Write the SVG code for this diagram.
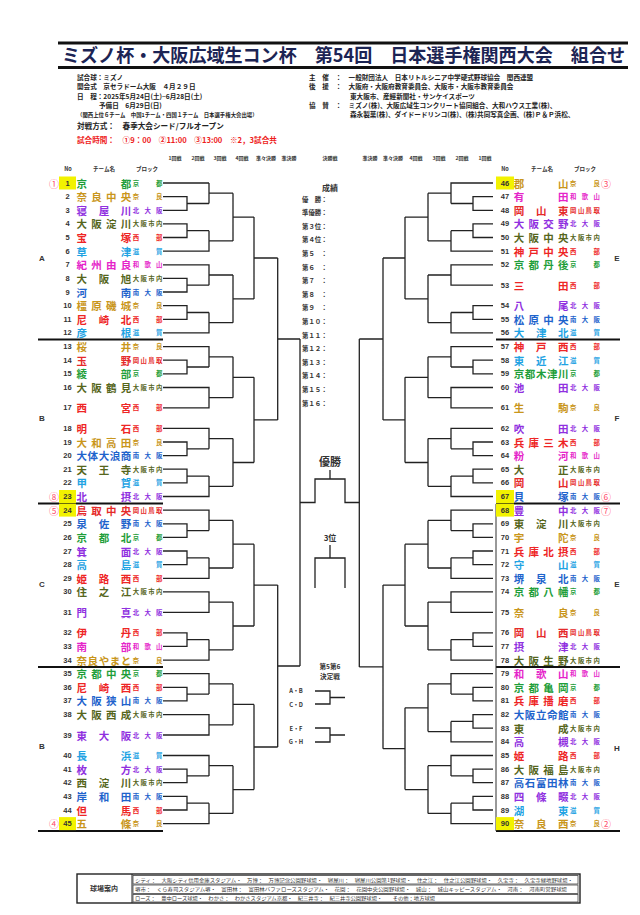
<svg xmlns="http://www.w3.org/2000/svg" width="640" height="915" viewBox="0 0 640 915">
<style>
text{font-family:"Noto Sans CJK JP","Noto Sans CJK SC",sans-serif;font-weight:700}
.nm{font-size:10.5px;text-anchor:middle;dominant-baseline:central}
.bk{font-size:6.4px;text-anchor:middle;dominant-baseline:central}
.no{font-family:"Liberation Sans",Arial,sans-serif;font-size:7.5px;fill:#333;text-anchor:middle;dominant-baseline:central}
.ci{font-size:10px;fill:#ff4f6e;text-anchor:middle;dominant-baseline:central;font-weight:400}
.hl{fill:#f2f200}
.kyo{fill:#1f9e3a}.nara{fill:#c9961b}.kita{fill:#9030e0}.shinai{fill:#56661c}.sei{fill:#ee2525}.shiga{fill:#1fa3e3}.waka{fill:#e524c9}.minami{fill:#1e63cc}.oka{fill:#e52a2a}
.ln{stroke:#222;stroke-width:1.3;fill:none}
.sep{stroke:#111;stroke-width:2.2}
.rd{font-size:5px;fill:#333;text-anchor:middle}
.ch{font-size:5.5px;fill:#333;text-anchor:middle}
.inf{font-size:6.6px;fill:#222}
.sm{font-size:5.4px;fill:#222}
.res{font-size:6.4px;fill:#333}
.blk{font-family:"Liberation Sans",Arial,sans-serif;font-size:8px;fill:#333;text-anchor:middle;dominant-baseline:central}
.ft{font-size:5px;fill:#333;font-weight:400}
</style>

<g id="header">
<line x1="58" y1="43" x2="628" y2="43" stroke="#111" stroke-width="3"/>
<line x1="58" y1="67.5" x2="628" y2="67.5" stroke="#111" stroke-width="3"/>
<text x="62" y="62" font-size="18.5" fill="#1c2454" textLength="563" lengthAdjust="spacingAndGlyphs">ミズノ杯・大阪広域生コン杯　第54回　日本選手権関西大会　組合せ</text>
<text class="inf" x="77" y="79.5">試合球：ミズノ</text>
<text class="inf" x="77" y="89">開会式　京セラドーム大阪　４月２９日</text>
<text class="inf" x="77" y="98.5">日　程：2025年5月24日(土)~6月28日(土)</text>
<text class="inf" x="99" y="107.5">予備日　6月29日(日)</text>
<text class="sm" x="77" y="117">（関西上位６チーム　中国1チーム・四国１チーム　日本選手権大会出場）</text>
<text x="77" y="129" font-size="7.6" fill="#222">対戦方式：　春季大会シード/フルオープン</text>
<text x="77" y="142.5" font-size="7.6" fill="#ee1c1c">試合時間：　①9：00　②11:00　③13:00　※2，3試合共</text>
<text class="inf" x="309" y="79.5">主　催　：　一般財団法人　日本リトルシニア中学硬式野球協会　関西連盟</text>
<text class="inf" x="309" y="89">後　援　：　大阪府・大阪府教育委員会、大阪市・大阪市教育委員会</text>
<text class="inf" x="350" y="98.5">東大阪市、産經新聞社・サンケイスポーツ</text>
<text class="inf" x="309" y="107.5">協　賛　：　ミズノ(株)、大阪広域生コンクリート協同組合、大和ハウス工業(株)、</text>
<text class="inf" x="350" y="117">森永製菓(株)、ダイドードリンコ(株)、(株)共同写真企画、(株)Ｐ＆Ｐ浜松、</text>
</g>

<g id="round-labels">
<text class="rd" x="175" y="160">1回戦</text><text class="rd" x="198" y="160">2回戦</text><text class="rd" x="220" y="160">3回戦</text><text class="rd" x="242" y="160">4回戦</text><text class="rd" x="266" y="160">準々決勝</text><text class="rd" x="289" y="160">準決勝</text><text class="rd" x="330" y="160">決勝戦</text><text class="rd" x="370" y="160">準決勝</text><text class="rd" x="393" y="160">準々決勝</text><text class="rd" x="416" y="160">4回戦</text><text class="rd" x="439" y="160">3回戦</text><text class="rd" x="462" y="160">2回戦</text><text class="rd" x="485" y="160">1回戦</text>
<text class="ch" x="68" y="171">No</text><text class="ch" x="104" y="171">チーム名</text><text class="ch" x="147" y="171">ブロック</text>
<text class="ch" x="505" y="171">No</text><text class="ch" x="542" y="171">チーム名</text><text class="ch" x="585" y="171">ブロック</text>
</g>

<g id="block-labels">
<text class="blk" x="42" y="258">A</text><text class="blk" x="42" y="418">B</text><text class="blk" x="42" y="584">C</text><text class="blk" x="42" y="746">B</text>
<text class="blk" x="617" y="258">E</text><text class="blk" x="617" y="418">F</text><text class="blk" x="617" y="584">E</text><text class="blk" x="617" y="748">H</text>
</g>

<g id="separators">
<line class="sep" x1="38" y1="339.5" x2="163" y2="339.5"/><line class="sep" x1="38" y1="503.5" x2="163" y2="503.5"/><line class="sep" x1="38" y1="667" x2="163" y2="667"/><line class="sep" x1="38" y1="831" x2="163" y2="831"/>
<line class="sep" x1="496" y1="339.5" x2="620" y2="339.5"/><line class="sep" x1="496" y1="503.5" x2="620" y2="503.5"/><line class="sep" x1="496" y1="667" x2="620" y2="667"/><line class="sep" x1="496" y1="831" x2="620" y2="831"/>
<line x1="496" y1="504" x2="496" y2="831" stroke="#333" stroke-width="1"/>
</g>

<g id="connectors" class="ln">
<path d="M163 183H209M163 196.6H187V210.3H163M187 203.5H209M209 183V203.5M209 193.2H233M163 223.9H187V237.5H163M187 230.7H209M163 251.2H209V230.7M209 240.9H233M233 193.2V240.9M233 217.1H254M163 264.8H209V285.2M163 278.4H187V292H163M187 285.2H209M209 275H233M163 305.7H187V319.3H163M187 312.5H209M163 332.9H209V312.5M209 322.7H233M233 275V322.7M233 298.9H254M254 217.1V298.9M254 258H277.7"/>
<path d="M163 346.6H209V367M163 360.2H187V373.8H163M187 367H209M209 356.8H233M163 387.5H209V407.9H163M209 397.7H233M233 356.8V397.7M233 377.3H254M163 428.3H209V448.8M163 442H187V455.6H163M187 448.8H209M209 438.6H233M163 469.2H187V482.9H163M187 476.1H209M163 496.5H209V476.1M209 486.3H233M233 438.6V486.3M233 462.5H254M254 377.3V462.5M254 419.9H277.7M277.7 258V419.9M277.7 339H300"/>
<path d="M163 510.1H209V530.6M163 523.8H187V537.4H163M187 530.6H209M209 520.4H233M163 551H187V564.6H163M187 557.8H209M163 578.3H209V557.8M209 568H233M233 520.4V568M233 544.2H254M163 591.9H209V612.3H163M209 602.1H233M163 632.8H187V646.4H163M187 639.6H209M163 660.1H209V639.6M209 649.9H233M233 602.1V649.9M233 626H254M254 544.2V626M254 585.1H277.7"/>
<path d="M163 673.7H209V694.1M163 687.3H187V700.9H163M187 694.1H209M209 683.9H233M163 714.6H209V735H163M209 724.8H233M233 683.9V724.8M233 704.4H254M163 755.5H209V775.9M163 769.1H187V782.7H163M187 775.9H209M209 765.7H233M163 796.4H187V810H163M187 803.2H209M163 823.6H209V803.2M209 813.4H233M233 765.7V813.4M233 789.6H254M254 704.4V789.6M254 747H277.7M277.7 585.1V747M277.7 666H300M300 339V666"/>
<path d="M493 183H451V203.5M493 196.6H473V210.3H493M473 203.5H451M451 193.2H428M493 223.9H473V237.5H493M473 230.7H451M493 251.2H451V230.7M451 240.9H428M428 193.2V240.9M428 217.1H405M493 264.8H451V285.2H493M451 275H428M493 305.7H473V319.3H493M473 312.5H451M493 332.9H451V312.5M451 322.7H428M428 275V322.7M428 298.9H405M405 217.1V298.9M405 258H383"/>
<path d="M493 346.6H451V367M493 360.2H473V373.8H493M473 367H451M451 356.8H428M493 387.5H451V407.9H493M451 397.7H428M428 356.8V397.7M428 377.3H405M493 428.3H451V448.8M493 442H473V455.6H493M473 448.8H451M451 438.6H428M493 469.2H473V482.9H493M473 476.1H451M493 496.5H451V476.1M451 486.3H428M428 438.6V486.3M428 462.5H405M405 377.3V462.5M405 419.9H383M383 258V419.9M383 339H359.3"/>
<path d="M493 510.1H451V530.6M493 523.8H473V537.4H493M473 530.6H451M451 520.4H428M493 551H473V564.6H493M473 557.8H451M493 578.3H451V557.8M451 568H428M428 520.4V568M428 544.2H405M493 591.9H451V612.3H493M451 602.1H428M493 632.8H473V646.4H493M473 639.6H451M493 660.1H451V639.6M451 649.9H428M428 602.1V649.9M428 626H405M405 544.2V626M405 585.1H383"/>
<path d="M493 673.7H451V694.1M493 687.3H473V700.9H493M473 694.1H451M451 683.9H428M493 714.6H473V728.2H493M473 721.4H451M493 741.8H451V721.4M451 731.6H428M428 683.9V731.6M428 707.8H405M493 755.5H451V775.9M493 769.1H473V782.7H493M473 775.9H451M451 765.7H428M493 796.4H473V810H493M473 803.2H451M493 823.6H451V803.2M451 813.4H428M428 765.7V813.4M428 789.6H405M405 707.8V789.6M405 748.7H383M383 585.1V748.7M383 666.9H359.3M359.3 339V666.9"/>
<path d="M300 502.5H315V479H345V502.5H359.3M330 479V470M330 545V558M315 588V558H345V588M315 691H330V704H315M330 697.5H345M315 728H330V742H315M330 735H345"/>
</g>

<g id="center">
<text x="330" y="191" font-size="8" fill="#333" text-anchor="middle">成績</text>
<g class="res">
<text x="302" y="201.5">優　勝</text><text x="302" y="215">準優勝</text><text x="302" y="228.5">第３位</text><text x="302" y="242">第４位</text><text x="302" y="256">第５</text><text x="302" y="269.5">第６</text><text x="302" y="283">第７</text><text x="302" y="296.5">第８</text><text x="302" y="310">第９</text><text x="302" y="324">第１０</text><text x="302" y="337.5">第１１</text><text x="302" y="351">第１２</text><text x="302" y="364.5">第１３</text><text x="302" y="378">第１４</text><text x="302" y="391.5">第１５</text><text x="302" y="405.5">第１６</text>
<text x="321" y="201.5">：</text><text x="321" y="215">：</text><text x="321" y="228.5">：</text><text x="321" y="242">：</text><text x="321" y="256">：</text><text x="321" y="269.5">：</text><text x="321" y="283">：</text><text x="321" y="296.5">：</text><text x="321" y="310">：</text><text x="321" y="324">：</text><text x="321" y="337.5">：</text><text x="321" y="351">：</text><text x="321" y="364.5">：</text><text x="321" y="378">：</text><text x="321" y="391.5">：</text><text x="321" y="405.5">：</text>
</g>
<text x="330" y="466" font-size="11" fill="#333" text-anchor="middle">優勝</text>
<text x="330" y="541" font-size="8" fill="#333" text-anchor="middle">3位</text>
<text x="330" y="668.5" font-size="6.6" fill="#333" text-anchor="middle">第5第6</text>
<text x="330" y="678.5" font-size="6.6" fill="#333" text-anchor="middle">決定戦</text>
<text x="296" y="693" font-size="5.8" fill="#333" text-anchor="middle">A・B</text>
<text x="296" y="706.5" font-size="5.8" fill="#333" text-anchor="middle">C・D</text>
<text x="296" y="730.5" font-size="5.8" fill="#333" text-anchor="middle">E・F</text>
<text x="296" y="744" font-size="5.8" fill="#333" text-anchor="middle">G・H</text>
</g>

<g id="teams-left">
<g id="t1"><rect class="hl" x="59" y="176.5" width="17" height="13"/><text class="ci" x="54" y="183">①</text><text class="no" x="67.5" y="183">1</text><text class="nm kyo" x="81.7 126" y="183">京都</text><text class="bk kyo" x="136 159.3" y="183">京都</text></g>
<g id="t2"><text class="no" x="67.5" y="196.6">2</text><text class="nm nara" x="81.7 96.5 111.3 126" y="196.6">奈良中央</text><text class="bk nara" x="136 159.3" y="196.6">奈良</text></g>
<g id="t3"><text class="no" x="67.5" y="210.3">3</text><text class="nm kita" x="81.7 103.9 126" y="210.3">寝屋川</text><text class="bk kita" x="136 147.7 159.3" y="210.3">北大阪</text></g>
<g id="t4"><text class="no" x="67.5" y="223.9">4</text><text class="nm shinai" x="81.7 96.5 111.3 126" y="223.9">大阪淀川</text><text class="bk shinai" x="136 143.8 151.5 159.3" y="223.9">大阪市内</text></g>
<g id="t5"><text class="no" x="67.5" y="237.5">5</text><text class="nm sei" x="81.7 126" y="237.5">宝塚</text><text class="bk sei" x="136 159.3" y="237.5">西部</text></g>
<g id="t6"><text class="no" x="67.5" y="251.2">6</text><text class="nm shiga" x="81.7 126" y="251.2">草津</text><text class="bk shiga" x="136 159.3" y="251.2">滋賀</text></g>
<g id="t7"><text class="no" x="67.5" y="264.8">7</text><text class="nm waka" x="81.7 96.5 111.3 126" y="264.8">紀州由良</text><text class="bk waka" x="136 147.7 159.3" y="264.8">和歌山</text></g>
<g id="t8"><text class="no" x="67.5" y="278.4">8</text><text class="nm shinai" x="81.7 103.9 126" y="278.4">大阪旭</text><text class="bk shinai" x="136 143.8 151.5 159.3" y="278.4">大阪市内</text></g>
<g id="t9"><text class="no" x="67.5" y="292">9</text><text class="nm minami" x="81.7 126" y="292">河南</text><text class="bk minami" x="136 147.7 159.3" y="292">南大阪</text></g>
<g id="t10"><text class="no" x="67.5" y="305.7">10</text><text class="nm nara" x="81.7 96.5 111.3 126" y="305.7">橿原磯城</text><text class="bk nara" x="136 159.3" y="305.7">奈良</text></g>
<g id="t11"><text class="no" x="67.5" y="319.3">11</text><text class="nm sei" x="81.7 103.9 126" y="319.3">尼崎北</text><text class="bk sei" x="136 159.3" y="319.3">西部</text></g>
<g id="t12"><text class="no" x="67.5" y="332.9">12</text><text class="nm shiga" x="81.7 126" y="332.9">彦根</text><text class="bk shiga" x="136 159.3" y="332.9">滋賀</text></g>
<g id="t13"><text class="no" x="67.5" y="346.6">13</text><text class="nm nara" x="81.7 126" y="346.6">桜井</text><text class="bk nara" x="136 159.3" y="346.6">奈良</text></g>
<g id="t14"><text class="no" x="67.5" y="360.2">14</text><text class="nm oka" x="81.7 126" y="360.2">玉野</text><text class="bk oka" x="136 143.8 151.5 159.3" y="360.2">岡山鳥取</text></g>
<g id="t15"><text class="no" x="67.5" y="373.8">15</text><text class="nm kyo" x="81.7 126" y="373.8">綾部</text><text class="bk kyo" x="136 159.3" y="373.8">京都</text></g>
<g id="t16"><text class="no" x="67.5" y="387.5">16</text><text class="nm shinai" x="81.7 96.5 111.3 126" y="387.5">大阪鶴見</text><text class="bk shinai" x="136 143.8 151.5 159.3" y="387.5">大阪市内</text></g>
<g id="t17"><text class="no" x="67.5" y="407.9">17</text><text class="nm sei" x="81.7 126" y="407.9">西宮</text><text class="bk sei" x="136 159.3" y="407.9">西部</text></g>
<g id="t18"><text class="no" x="67.5" y="428.3">18</text><text class="nm sei" x="81.7 126" y="428.3">明石</text><text class="bk sei" x="136 159.3" y="428.3">西部</text></g>
<g id="t19"><text class="no" x="67.5" y="442">19</text><text class="nm nara" x="81.7 96.5 111.3 126" y="442">大和高田</text><text class="bk nara" x="136 159.3" y="442">奈良</text></g>
<g id="t20"><text class="no" x="67.5" y="455.6">20</text><text class="nm minami" x="81.7 92.8 103.9 115 126" y="455.6">大体大浪商</text><text class="bk minami" x="136 147.7 159.3" y="455.6">南大阪</text></g>
<g id="t21"><text class="no" x="67.5" y="469.2">21</text><text class="nm shinai" x="81.7 103.9 126" y="469.2">天王寺</text><text class="bk shinai" x="136 143.8 151.5 159.3" y="469.2">大阪市内</text></g>
<g id="t22"><text class="no" x="67.5" y="482.9">22</text><text class="nm shiga" x="81.7 126" y="482.9">甲賀</text><text class="bk shiga" x="136 159.3" y="482.9">滋賀</text></g>
<g id="t23"><rect class="hl" x="59" y="490" width="17" height="13"/><text class="ci" x="54" y="496.5">⑧</text><text class="no" x="67.5" y="496.5">23</text><text class="nm kita" x="81.7 126" y="496.5">北摂</text><text class="bk kita" x="136 147.7 159.3" y="496.5">北大阪</text></g>
<g id="t24"><rect class="hl" x="59" y="503.6" width="17" height="13"/><text class="ci" x="54" y="510.1">⑤</text><text class="no" x="67.5" y="510.1">24</text><text class="nm oka" x="81.7 96.5 111.3 126" y="510.1">鳥取中央</text><text class="bk oka" x="136 143.8 151.5 159.3" y="510.1">岡山鳥取</text></g>
<g id="t25"><text class="no" x="67.5" y="523.8">25</text><text class="nm minami" x="81.7 103.9 126" y="523.8">泉佐野</text><text class="bk minami" x="136 147.7 159.3" y="523.8">南大阪</text></g>
<g id="t26"><text class="no" x="67.5" y="537.4">26</text><text class="nm kyo" x="81.7 103.9 126" y="537.4">京都北</text><text class="bk kyo" x="136 159.3" y="537.4">京都</text></g>
<g id="t27"><text class="no" x="67.5" y="551">27</text><text class="nm kita" x="81.7 126" y="551">箕面</text><text class="bk kita" x="136 147.7 159.3" y="551">北大阪</text></g>
<g id="t28"><text class="no" x="67.5" y="564.6">28</text><text class="nm shiga" x="81.7 126" y="564.6">高島</text><text class="bk shiga" x="136 159.3" y="564.6">滋賀</text></g>
<g id="t29"><text class="no" x="67.5" y="578.3">29</text><text class="nm sei" x="81.7 103.9 126" y="578.3">姫路西</text><text class="bk sei" x="136 159.3" y="578.3">西部</text></g>
<g id="t30"><text class="no" x="67.5" y="591.9">30</text><text class="nm shinai" x="81.7 103.9 126" y="591.9">住之江</text><text class="bk shinai" x="136 143.8 151.5 159.3" y="591.9">大阪市内</text></g>
<g id="t31"><text class="no" x="67.5" y="612.3">31</text><text class="nm kita" x="81.7 126" y="612.3">門真</text><text class="bk kita" x="136 147.7 159.3" y="612.3">北大阪</text></g>
<g id="t32"><text class="no" x="67.5" y="632.8">32</text><text class="nm sei" x="81.7 126" y="632.8">伊丹</text><text class="bk sei" x="136 159.3" y="632.8">西部</text></g>
<g id="t33"><text class="no" x="67.5" y="646.4">33</text><text class="nm waka" x="81.7 126" y="646.4">南部</text><text class="bk waka" x="136 147.7 159.3" y="646.4">和歌山</text></g>
<g id="t34"><text class="no" x="67.5" y="660.1">34</text><text class="nm nara" x="81.7 92.8 103.9 115 126" y="660.1">奈良やまと</text><text class="bk nara" x="136 159.3" y="660.1">奈良</text></g>
<g id="t35"><text class="no" x="67.5" y="673.7">35</text><text class="nm kyo" x="81.7 96.5 111.3 126" y="673.7">京都中央</text><text class="bk kyo" x="136 159.3" y="673.7">京都</text></g>
<g id="t36"><text class="no" x="67.5" y="687.3">36</text><text class="nm sei" x="81.7 103.9 126" y="687.3">尼崎西</text><text class="bk sei" x="136 159.3" y="687.3">西部</text></g>
<g id="t37"><text class="no" x="67.5" y="700.9">37</text><text class="nm minami" x="81.7 96.5 111.3 126" y="700.9">大阪狭山</text><text class="bk minami" x="136 147.7 159.3" y="700.9">南大阪</text></g>
<g id="t38"><text class="no" x="67.5" y="714.6">38</text><text class="nm shinai" x="81.7 96.5 111.3 126" y="714.6">大阪西成</text><text class="bk shinai" x="136 143.8 151.5 159.3" y="714.6">大阪市内</text></g>
<g id="t39"><text class="no" x="67.5" y="735">39</text><text class="nm kita" x="81.7 103.9 126" y="735">東大阪</text><text class="bk kita" x="136 147.7 159.3" y="735">北大阪</text></g>
<g id="t40"><text class="no" x="67.5" y="755.5">40</text><text class="nm shiga" x="81.7 126" y="755.5">長浜</text><text class="bk shiga" x="136 159.3" y="755.5">滋賀</text></g>
<g id="t41"><text class="no" x="67.5" y="769.1">41</text><text class="nm kita" x="81.7 126" y="769.1">枚方</text><text class="bk kita" x="136 147.7 159.3" y="769.1">北大阪</text></g>
<g id="t42"><text class="no" x="67.5" y="782.7">42</text><text class="nm shinai" x="81.7 103.9 126" y="782.7">西淀川</text><text class="bk shinai" x="136 143.8 151.5 159.3" y="782.7">大阪市内</text></g>
<g id="t43"><text class="no" x="67.5" y="796.4">43</text><text class="nm minami" x="81.7 103.9 126" y="796.4">岸和田</text><text class="bk minami" x="136 147.7 159.3" y="796.4">南大阪</text></g>
<g id="t44"><text class="no" x="67.5" y="810">44</text><text class="nm sei" x="81.7 126" y="810">但馬</text><text class="bk sei" x="136 159.3" y="810">西部</text></g>
<g id="t45"><rect class="hl" x="59" y="817.1" width="17" height="13"/><text class="ci" x="54" y="823.6">④</text><text class="no" x="67.5" y="823.6">45</text><text class="nm nara" x="81.7 126" y="823.6">五條</text><text class="bk nara" x="136 159.3" y="823.6">奈良</text></g>
</g>

<g id="teams-right">
<g id="t46"><rect class="hl" x="496" y="176.5" width="18" height="13"/><text class="ci" x="606" y="183">③</text><text class="no" x="505" y="183">46</text><text class="nm nara" x="519 563.3" y="183">郡山</text><text class="bk nara" x="573.3 596.6" y="183">奈良</text></g>
<g id="t47"><text class="no" x="505" y="196.6">47</text><text class="nm waka" x="519 563.3" y="196.6">有田</text><text class="bk waka" x="573.3 585 596.6" y="196.6">和歌山</text></g>
<g id="t48"><text class="no" x="505" y="210.3">48</text><text class="nm oka" x="519 541.2 563.3" y="210.3">岡山東</text><text class="bk oka" x="573.3 581.1 588.8 596.6" y="210.3">岡山鳥取</text></g>
<g id="t49"><text class="no" x="505" y="223.9">49</text><text class="nm kita" x="519 533.8 548.6 563.3" y="223.9">大阪交野</text><text class="bk kita" x="573.3 585 596.6" y="223.9">北大阪</text></g>
<g id="t50"><text class="no" x="505" y="237.5">50</text><text class="nm shinai" x="519 533.8 548.6 563.3" y="237.5">大阪中央</text><text class="bk shinai" x="573.3 581.1 588.8 596.6" y="237.5">大阪市内</text></g>
<g id="t51"><text class="no" x="505" y="251.2">51</text><text class="nm sei" x="519 533.8 548.6 563.3" y="251.2">神戸中央</text><text class="bk sei" x="573.3 596.6" y="251.2">西部</text></g>
<g id="t52"><text class="no" x="505" y="264.8">52</text><text class="nm kyo" x="519 533.8 548.6 563.3" y="264.8">京都丹後</text><text class="bk kyo" x="573.3 596.6" y="264.8">京都</text></g>
<g id="t53"><text class="no" x="505" y="285.2">53</text><text class="nm sei" x="519 563.3" y="285.2">三田</text><text class="bk sei" x="573.3 596.6" y="285.2">西部</text></g>
<g id="t54"><text class="no" x="505" y="305.7">54</text><text class="nm kita" x="519 563.3" y="305.7">八尾</text><text class="bk kita" x="573.3 585 596.6" y="305.7">北大阪</text></g>
<g id="t55"><text class="no" x="505" y="319.3">55</text><text class="nm minami" x="519 533.8 548.6 563.3" y="319.3">松原中央</text><text class="bk minami" x="573.3 585 596.6" y="319.3">南大阪</text></g>
<g id="t56"><text class="no" x="505" y="332.9">56</text><text class="nm shiga" x="519 541.2 563.3" y="332.9">大津北</text><text class="bk shiga" x="573.3 596.6" y="332.9">滋賀</text></g>
<g id="t57"><text class="no" x="505" y="346.6">57</text><text class="nm sei" x="519 541.2 563.3" y="346.6">神戸西</text><text class="bk sei" x="573.3 596.6" y="346.6">西部</text></g>
<g id="t58"><text class="no" x="505" y="360.2">58</text><text class="nm shiga" x="519 541.2 563.3" y="360.2">東近江</text><text class="bk shiga" x="573.3 596.6" y="360.2">滋賀</text></g>
<g id="t59"><text class="no" x="505" y="373.8">59</text><text class="nm kyo" x="519 530.1 541.2 552.2 563.3" y="373.8">京都木津川</text><text class="bk kyo" x="573.3 596.6" y="373.8">京都</text></g>
<g id="t60"><text class="no" x="505" y="387.5">60</text><text class="nm kita" x="519 563.3" y="387.5">池田</text><text class="bk kita" x="573.3 585 596.6" y="387.5">北大阪</text></g>
<g id="t61"><text class="no" x="505" y="407.9">61</text><text class="nm nara" x="519 563.3" y="407.9">生駒</text><text class="bk nara" x="573.3 596.6" y="407.9">奈良</text></g>
<g id="t62"><text class="no" x="505" y="428.3">62</text><text class="nm kita" x="519 563.3" y="428.3">吹田</text><text class="bk kita" x="573.3 585 596.6" y="428.3">北大阪</text></g>
<g id="t63"><text class="no" x="505" y="442">63</text><text class="nm sei" x="519 533.8 548.6 563.3" y="442">兵庫三木</text><text class="bk sei" x="573.3 596.6" y="442">西部</text></g>
<g id="t64"><text class="no" x="505" y="455.6">64</text><text class="nm waka" x="519 563.3" y="455.6">粉河</text><text class="bk waka" x="573.3 585 596.6" y="455.6">和歌山</text></g>
<g id="t65"><text class="no" x="505" y="469.2">65</text><text class="nm shinai" x="519 563.3" y="469.2">大正</text><text class="bk shinai" x="573.3 581.1 588.8 596.6" y="469.2">大阪市内</text></g>
<g id="t66"><text class="no" x="505" y="482.9">66</text><text class="nm oka" x="519 563.3" y="482.9">岡山</text><text class="bk oka" x="573.3 581.1 588.8 596.6" y="482.9">岡山鳥取</text></g>
<g id="t67"><rect class="hl" x="496" y="490" width="18" height="13"/><text class="ci" x="606" y="496.5">⑥</text><text class="no" x="505" y="496.5">67</text><text class="nm minami" x="519 563.3" y="496.5">貝塚</text><text class="bk minami" x="573.3 585 596.6" y="496.5">南大阪</text></g>
<g id="t68"><rect class="hl" x="496" y="503.6" width="18" height="13"/><text class="ci" x="606" y="510.1">⑦</text><text class="no" x="505" y="510.1">68</text><text class="nm kita" x="519 563.3" y="510.1">豊中</text><text class="bk kita" x="573.3 585 596.6" y="510.1">北大阪</text></g>
<g id="t69"><text class="no" x="505" y="523.8">69</text><text class="nm shinai" x="519 541.2 563.3" y="523.8">東淀川</text><text class="bk shinai" x="573.3 581.1 588.8 596.6" y="523.8">大阪市内</text></g>
<g id="t70"><text class="no" x="505" y="537.4">70</text><text class="nm nara" x="519 563.3" y="537.4">宇陀</text><text class="bk nara" x="573.3 596.6" y="537.4">奈良</text></g>
<g id="t71"><text class="no" x="505" y="551">71</text><text class="nm sei" x="519 533.8 548.6 563.3" y="551">兵庫北摂</text><text class="bk sei" x="573.3 596.6" y="551">西部</text></g>
<g id="t72"><text class="no" x="505" y="564.6">72</text><text class="nm shiga" x="519 563.3" y="564.6">守山</text><text class="bk shiga" x="573.3 596.6" y="564.6">滋賀</text></g>
<g id="t73"><text class="no" x="505" y="578.3">73</text><text class="nm minami" x="519 541.2 563.3" y="578.3">堺泉北</text><text class="bk minami" x="573.3 585 596.6" y="578.3">南大阪</text></g>
<g id="t74"><text class="no" x="505" y="591.9">74</text><text class="nm kyo" x="519 533.8 548.6 563.3" y="591.9">京都八幡</text><text class="bk kyo" x="573.3 596.6" y="591.9">京都</text></g>
<g id="t75"><text class="no" x="505" y="612.3">75</text><text class="nm nara" x="519 563.3" y="612.3">奈良</text><text class="bk nara" x="573.3 596.6" y="612.3">奈良</text></g>
<g id="t76"><text class="no" x="505" y="632.8">76</text><text class="nm oka" x="519 541.2 563.3" y="632.8">岡山西</text><text class="bk oka" x="573.3 581.1 588.8 596.6" y="632.8">岡山鳥取</text></g>
<g id="t77"><text class="no" x="505" y="646.4">77</text><text class="nm kita" x="519 563.3" y="646.4">摂津</text><text class="bk kita" x="573.3 585 596.6" y="646.4">北大阪</text></g>
<g id="t78"><text class="no" x="505" y="660.1">78</text><text class="nm shinai" x="519 533.8 548.6 563.3" y="660.1">大阪生野</text><text class="bk shinai" x="573.3 581.1 588.8 596.6" y="660.1">大阪市内</text></g>
<g id="t79"><text class="no" x="505" y="673.7">79</text><text class="nm waka" x="519 541.2 563.3" y="673.7">和歌山</text><text class="bk waka" x="573.3 585 596.6" y="673.7">和歌山</text></g>
<g id="t80"><text class="no" x="505" y="687.3">80</text><text class="nm kyo" x="519 533.8 548.6 563.3" y="687.3">京都亀岡</text><text class="bk kyo" x="573.3 596.6" y="687.3">京都</text></g>
<g id="t81"><text class="no" x="505" y="700.9">81</text><text class="nm sei" x="519 533.8 548.6 563.3" y="700.9">兵庫播磨</text><text class="bk sei" x="573.3 596.6" y="700.9">西部</text></g>
<g id="t82"><text class="no" x="505" y="714.6">82</text><text class="nm minami" x="519 530.1 541.2 552.2 563.3" y="714.6">大阪立命館</text><text class="bk minami" x="573.3 585 596.6" y="714.6">南大阪</text></g>
<g id="t83"><text class="no" x="505" y="728.2">83</text><text class="nm shinai" x="519 563.3" y="728.2">東成</text><text class="bk shinai" x="573.3 581.1 588.8 596.6" y="728.2">大阪市内</text></g>
<g id="t84"><text class="no" x="505" y="741.8">84</text><text class="nm kita" x="519 563.3" y="741.8">高槻</text><text class="bk kita" x="573.3 585 596.6" y="741.8">北大阪</text></g>
<g id="t85"><text class="no" x="505" y="755.5">85</text><text class="nm sei" x="519 563.3" y="755.5">姫路</text><text class="bk sei" x="573.3 596.6" y="755.5">西部</text></g>
<g id="t86"><text class="no" x="505" y="769.1">86</text><text class="nm shinai" x="519 533.8 548.6 563.3" y="769.1">大阪福島</text><text class="bk shinai" x="573.3 581.1 588.8 596.6" y="769.1">大阪市内</text></g>
<g id="t87"><text class="no" x="505" y="782.7">87</text><text class="nm minami" x="519 530.1 541.2 552.2 563.3" y="782.7">高石富田林</text><text class="bk minami" x="573.3 585 596.6" y="782.7">南大阪</text></g>
<g id="t88"><text class="no" x="505" y="796.4">88</text><text class="nm kita" x="519 541.2 563.3" y="796.4">四條畷</text><text class="bk kita" x="573.3 585 596.6" y="796.4">北大阪</text></g>
<g id="t89"><text class="no" x="505" y="810">89</text><text class="nm shiga" x="519 563.3" y="810">湖東</text><text class="bk shiga" x="573.3 596.6" y="810">滋賀</text></g>
<g id="t90"><rect class="hl" x="496" y="817.1" width="18" height="13"/><text class="ci" x="606" y="823.6">②</text><text class="no" x="505" y="823.6">90</text><text class="nm nara" x="519 541.2 563.3" y="823.6">奈良西</text><text class="bk nara" x="573.3 596.6" y="823.6">奈良</text></g>
</g>

<g id="footer">
<rect x="77" y="874" width="503" height="29" fill="none" stroke="#222" stroke-width="1.4"/>
<line x1="132" y1="874" x2="132" y2="903" stroke="#222" stroke-width="1"/>
<rect x="133" y="875.5" width="445" height="8.5" fill="none" stroke="#444" stroke-width="0.8"/>
<rect x="133" y="885" width="445" height="8.5" fill="none" stroke="#444" stroke-width="0.8"/>
<rect x="133" y="894.5" width="445" height="7.5" fill="none" stroke="#444" stroke-width="0.8"/>
<text x="104" y="891" font-size="7" fill="#333" text-anchor="middle">球場案内</text>
<text class="ft" x="135" y="881.6" textLength="438" lengthAdjust="spacingAndGlyphs">シティ：　大阪シティ信用金庫スタジアム・　万博：　万博記念公園野球場・　寝屋川：　寝屋川公園第1野球場・　住之江：　住之江公園野球場・　久宝寺：　久宝寺緑地野球場・</text>
<text class="ft" x="135" y="891.1" textLength="432" lengthAdjust="spacingAndGlyphs">堺市：　くら寿司スタジアム堺・　富田林：　富田林バファローズスタジアム・　花園：　花園中央公園野球場・　城山：　城山キッピースタジアム・　河南：　河南町営野球場</text>
<text class="ft" x="135" y="900.3" textLength="300" lengthAdjust="spacingAndGlyphs">ローズ：　豊中ローズ球場・　わかさ：　わかさスタジアム京都・　紀三井寺：　紀三井寺公園野球場・　　その他：地方球場</text>
</g>
</svg>
